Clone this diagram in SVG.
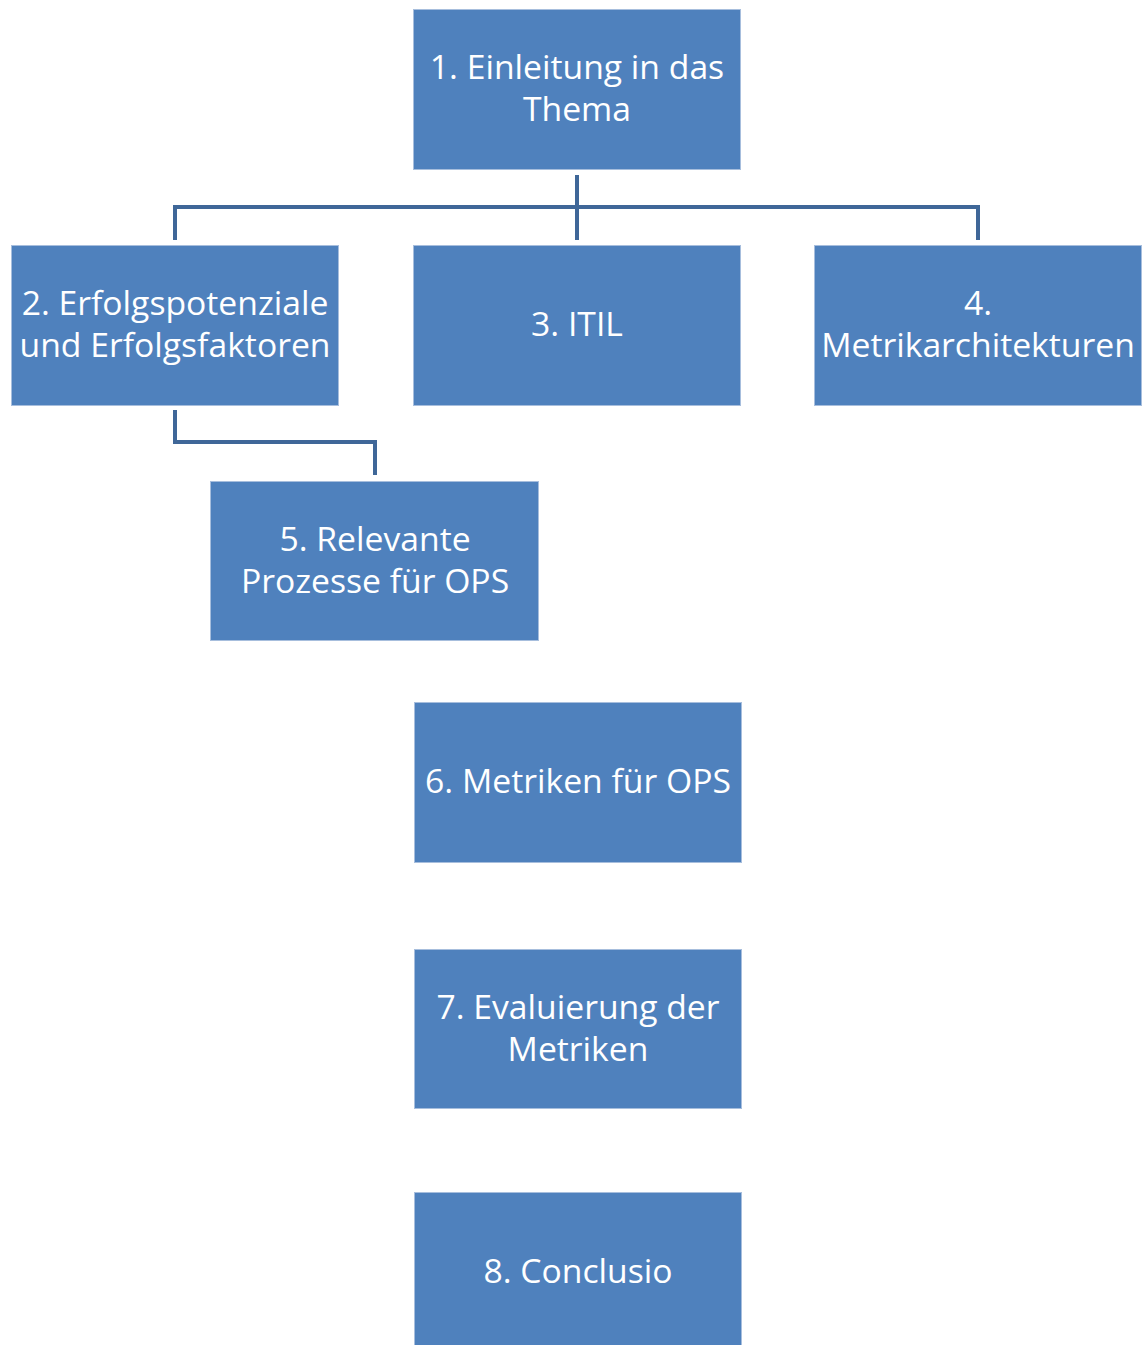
<svg xmlns="http://www.w3.org/2000/svg" width="1148" height="1345" viewBox="0 0 1148 1345">
  <style>
    .box { fill: #4F81BD; stroke: #A7BEDD; stroke-width: 1; }
    .label { fill: #FFFFFF; font-family: "Open Sans", Lato, "Liberation Sans", sans-serif; font-size: 33.7px; text-anchor: middle; }
    .link { fill: none; stroke: #3F6798; stroke-width: 4; }
  </style>
  <rect width="1148" height="1345" fill="#FFFFFF"/>

  <g id="connectors">
    <path class="link" d="M577 175 V240"/>
    <path class="link" d="M175 240 V207 H978 V240"/>
    <path class="link" d="M175 410 V442 H375 V475"/>
  </g>

  <g id="node1">
    <rect class="box" x="413.5" y="9.5" width="327" height="160"/>
    <text class="label" x="577" y="79">1. Einleitung in das</text>
    <text class="label" x="577" y="121">Thema</text>
  </g>
  <g id="node2">
    <rect class="box" x="11.5" y="245.5" width="327" height="160"/>
    <text class="label" x="175" y="315">2. Erfolgspotenziale</text>
    <text class="label" x="175" y="357">und Erfolgsfaktoren</text>
  </g>
  <g id="node3">
    <rect class="box" x="413.5" y="245.5" width="327" height="160"/>
    <text class="label" x="577" y="336">3. ITIL</text>
  </g>
  <g id="node4">
    <rect class="box" x="814.5" y="245.5" width="327" height="160"/>
    <text class="label" x="978" y="315">4.</text>
    <text class="label" x="978" y="357">Metrikarchitekturen</text>
  </g>
  <g id="node5">
    <rect class="box" x="210.5" y="481.5" width="328" height="159"/>
    <text class="label" x="375" y="551">5. Relevante</text>
    <text class="label" x="375" y="593">Prozesse für OPS</text>
  </g>
  <g id="node6">
    <rect class="box" x="414.5" y="702.5" width="327" height="160"/>
    <text class="label" x="578" y="793">6. Metriken für OPS</text>
  </g>
  <g id="node7">
    <rect class="box" x="414.5" y="949.5" width="327" height="159"/>
    <text class="label" x="578" y="1019">7. Evaluierung der</text>
    <text class="label" x="578" y="1061">Metriken</text>
  </g>
  <g id="node8">
    <rect class="box" x="414.5" y="1192.5" width="327" height="160"/>
    <text class="label" x="578" y="1283">8. Conclusio</text>
  </g>
</svg>
